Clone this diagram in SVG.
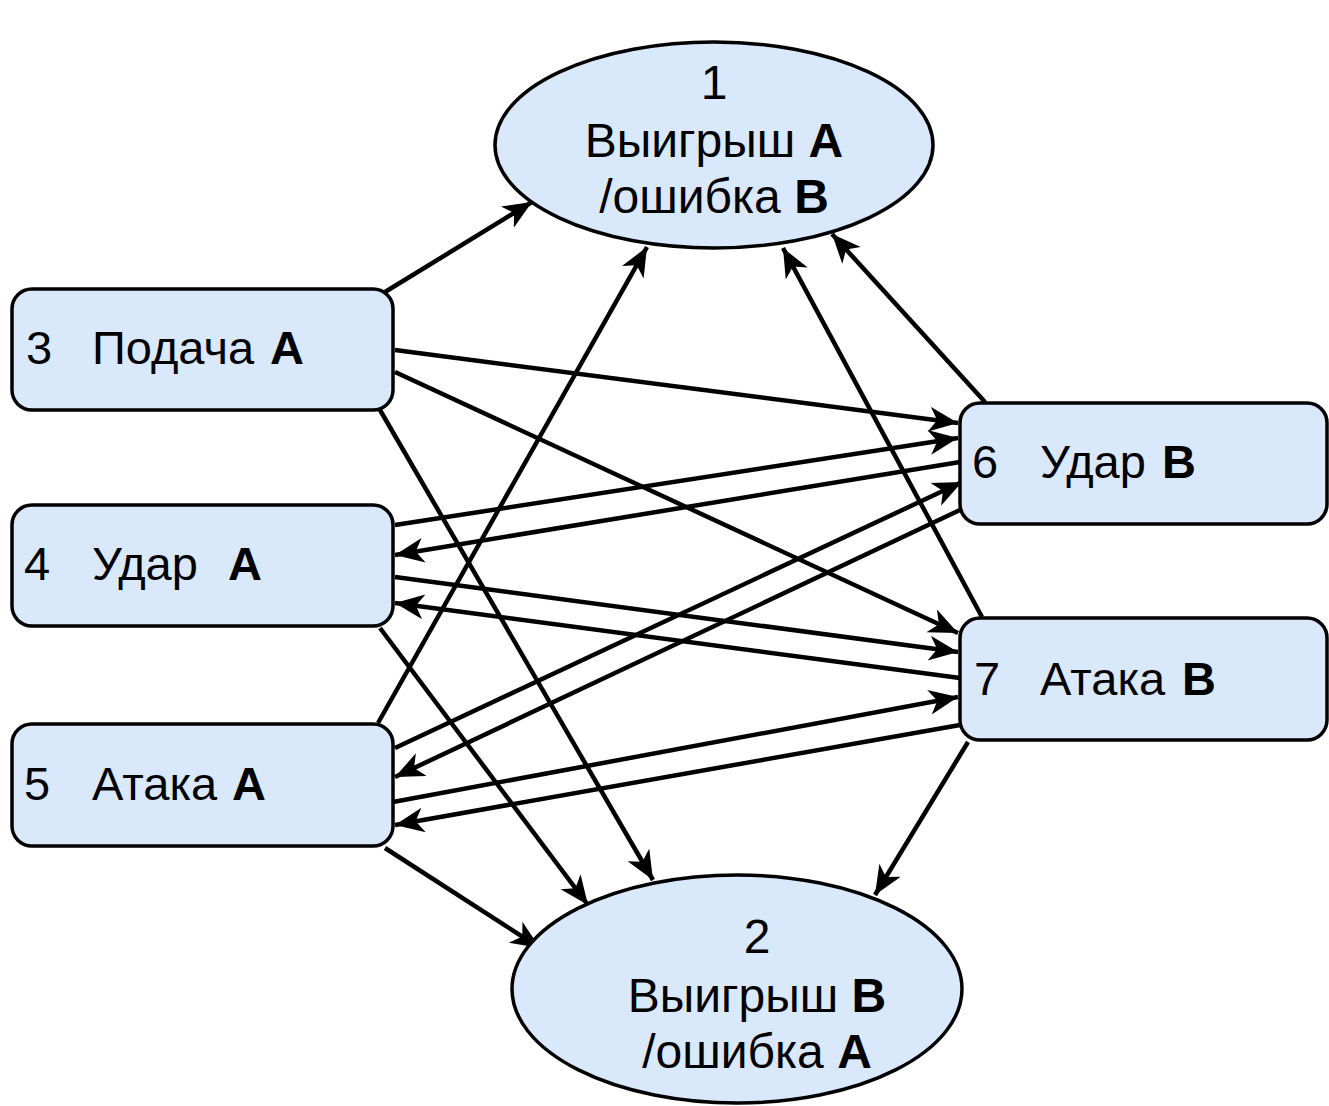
<svg xmlns="http://www.w3.org/2000/svg" width="1329" height="1106" viewBox="0 0 1329 1106">
<style>
.node{fill:#dae8fc;stroke:#000;stroke-width:3.5}
.t{font-family:"Liberation Sans",Arial,sans-serif;fill:#000}
.el{font-size:48px}
.rt{font-size:47px}
.b{font-weight:bold}
.e{stroke:#000;stroke-width:4.5;fill:none;marker-end:url(#arr)}
</style>
<defs>
<marker id="arr" markerUnits="userSpaceOnUse" markerWidth="32" markerHeight="26" refX="29" refY="12.5" orient="auto" viewBox="0 0 32 26">
<path d="M0,0 L29,12.5 L0,25 L8,12.5 Z" fill="#000"/>
</marker>
</defs>
<rect width="1329" height="1106" fill="#fff"/>
<g id="connectors">
<line class="e" x1="385" y1="292" x2="532" y2="202"/>
<line class="e" x1="395" y1="350" x2="958" y2="423"/>
<line class="e" x1="395" y1="372" x2="958" y2="633"/>
<line class="e" x1="380" y1="410" x2="653" y2="880"/>
<line class="e" x1="395" y1="525" x2="958" y2="438"/>
<line class="e" x1="960" y1="462" x2="395" y2="555"/>
<line class="e" x1="395" y1="577" x2="958" y2="652"/>
<line class="e" x1="960" y1="678" x2="395" y2="603"/>
<line class="e" x1="380" y1="628" x2="588" y2="905"/>
<line class="e" x1="378" y1="723" x2="647" y2="247"/>
<line class="e" x1="395" y1="748" x2="962" y2="482"/>
<line class="e" x1="960" y1="510" x2="395" y2="777"/>
<line class="e" x1="393" y1="802" x2="958" y2="697"/>
<line class="e" x1="960" y1="725" x2="395" y2="825"/>
<line class="e" x1="385" y1="848" x2="540" y2="948"/>
<line class="e" x1="968" y1="742" x2="875" y2="895"/>
<line class="e" x1="982" y1="617" x2="783" y2="248"/>
<line class="e" x1="985" y1="402" x2="832" y2="234"/>
</g>
<g id="node1">
<ellipse class="node" cx="714" cy="145" rx="219" ry="103"/>
<text class="t el" text-anchor="middle" x="714" y="99">1</text>
<text class="t el" text-anchor="middle" x="714" y="157">Выигрыш <tspan class="b">A</tspan></text>
<text class="t el" text-anchor="middle" x="714" y="213">/ошибка <tspan class="b">B</tspan></text>
</g>
<g id="node2">
<ellipse class="node" cx="737" cy="989" rx="225" ry="114"/>
<text class="t el" text-anchor="middle" x="757" y="953">2</text>
<text class="t el" text-anchor="middle" x="757" y="1012">Выигрыш <tspan class="b">B</tspan></text>
<text class="t el" text-anchor="middle" x="757" y="1068">/ошибка <tspan class="b">A</tspan></text>
</g>
<g id="node3">
<rect class="node" x="12" y="289" width="381" height="121" rx="20"/>
<text class="t rt" x="26" y="364">3<tspan x="92">Подача</tspan><tspan class="b" x="270">A</tspan></text>
</g>
<g id="node4">
<rect class="node" x="12" y="505" width="381" height="121" rx="20"/>
<text class="t rt" x="24" y="580">4<tspan x="92">Удар</tspan><tspan class="b" x="228">A</tspan></text>
</g>
<g id="node5">
<rect class="node" x="12" y="724" width="381" height="122" rx="20"/>
<text class="t rt" x="24" y="800">5<tspan x="92">Атака</tspan><tspan class="b" x="232">A</tspan></text>
</g>
<g id="node6">
<rect class="node" x="960" y="403" width="367" height="121" rx="20"/>
<text class="t rt" x="972" y="478">6<tspan x="1040">Удар</tspan><tspan class="b" x="1162">B</tspan></text>
</g>
<g id="node7">
<rect class="node" x="960" y="618" width="367" height="122" rx="20"/>
<text class="t rt" x="974" y="695">7<tspan x="1040">Атака</tspan><tspan class="b" x="1182">B</tspan></text>
</g>
</svg>
